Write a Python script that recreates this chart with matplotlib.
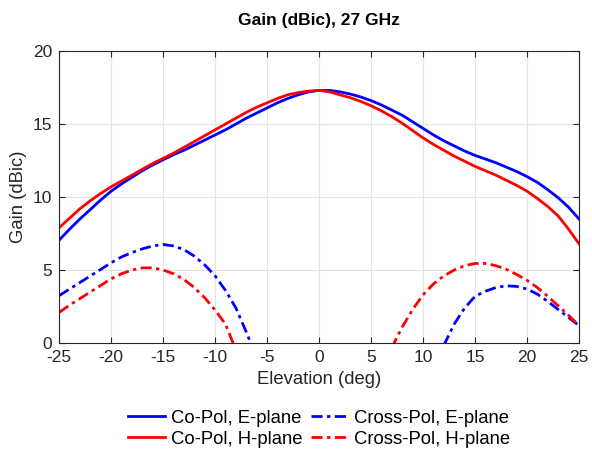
import numpy as np
import matplotlib.pyplot as plt

# Elevation angles (deg)
elev = np.arange(-25, 26)

co_e = [7.05, 7.8, 8.5, 9.15, 9.8, 10.4, 10.9, 11.35, 11.8, 12.2,
        12.55, 12.9, 13.2, 13.55, 13.9, 14.25, 14.6, 15.0, 15.4, 15.75,
        16.1, 16.45, 16.75, 17.0, 17.2, 17.3, 17.3, 17.2, 17.05, 16.85,
        16.6, 16.3, 15.95, 15.6, 15.15, 14.7, 14.25, 13.85, 13.5, 13.15,
        12.85, 12.6, 12.35, 12.05, 11.75, 11.4, 11.0, 10.5, 9.95, 9.3, 8.5]

co_h = [7.9, 8.55, 9.2, 9.75, 10.25, 10.7, 11.1, 11.5, 11.9, 12.3,
        12.65, 13.0, 13.4, 13.8, 14.2, 14.6, 15.0, 15.4, 15.8, 16.15,
        16.45, 16.75, 17.0, 17.15, 17.25, 17.3, 17.2, 17.0, 16.8, 16.55,
        16.25, 15.9, 15.5, 15.05, 14.55, 14.05, 13.6, 13.2, 12.8, 12.45,
        12.1, 11.8, 11.5, 11.15, 10.8, 10.4, 9.9, 9.35, 8.7, 7.8, 6.8]

nan = np.nan
# cross-pol, values below the axis floor kept where they leave the plot
x_e = [3.25, 3.7, 4.15, 4.6, 5.05, 5.5, 5.9, 6.2, 6.45, 6.65,
       6.75, 6.65, 6.4, 5.95, 5.35, 4.6, 3.6, 2.4, 0.75, -1.0,
       nan, nan, nan, nan, nan, nan, nan, nan, nan, nan,
       nan, nan, nan, nan, nan, nan, -1.6, -0.15, 1.3, 2.4,
       3.2, 3.55, 3.8, 3.92, 3.88, 3.7, 3.35, 2.85, 2.3, 1.75, 1.2]

x_h = [2.1, 2.6, 3.05, 3.5, 3.95, 4.4, 4.75, 5.0, 5.15, 5.15,
       5.0, 4.75, 4.35, 3.8, 3.1, 2.25, 1.3, -0.5, nan, nan,
       nan, nan, nan, nan, nan, nan, nan, nan, nan, nan,
       nan, -1.8, -0.3, 1.1, 2.3, 3.3, 4.05, 4.6, 5.0, 5.3,
       5.45, 5.45, 5.3, 5.05, 4.7, 4.3, 3.8, 3.2, 2.55, 1.9, 1.2]

plt.rcParams['font.family'] = ['Liberation Sans', 'DejaVu Sans']
plt.rcParams['axes.unicode_minus'] = False

fig = plt.figure(figsize=(5.92, 4.55), dpi=100)
ax = fig.add_axes([0.1, 0.246, 0.878, 0.642])

dashdot = (0, (4, 1.6, 1.2, 1.6))
ax.plot(elev, co_e, color='#0000ff', lw=2, label='Co-Pol, E-plane')
ax.plot(elev, co_h, color='#ff0000', lw=2, label='Co-Pol, H-plane')
ax.plot(elev, x_e, color='#0000ff', lw=2, ls=dashdot, label='Cross-Pol, E-plane')
ax.plot(elev, x_h, color='#ff0000', lw=2, ls=dashdot, label='Cross-Pol, H-plane')

ax.set_xlim(-25, 25)
ax.set_ylim(0, 20)
ax.set_xticks(np.arange(-25, 26, 5))
ax.set_yticks(np.arange(0, 21, 5))
ax.grid(True, color='#e3e3e3', lw=0.8)
ax.set_axisbelow(True)
ax.tick_params(direction='in', top=True, right=True, labelsize=12.5,
               color='#262626', labelcolor='#262626', length=4.5, pad=5)
for s in ax.spines.values():
    s.set_color('#262626')
    s.set_linewidth(0.8)

ax.set_xlabel('Elevation (deg)', fontsize=13.3, color='#262626', labelpad=4)
ax.set_ylabel('Gain (dBic)', fontsize=13.3, color='#262626', labelpad=4)
ax.set_title('Gain (dBic), 27 GHz', fontsize=12.5, fontweight='bold', pad=19)

h, l = ax.get_legend_handles_labels()
fig.legend(h, l, ncol=2, loc='center', bbox_to_anchor=(0.539, 0.058),
           frameon=False, fontsize=13.3, handlelength=2.0, handletextpad=0.3,
           columnspacing=0.5, labelspacing=0.22)

fig.savefig('out.png', dpi=100)
